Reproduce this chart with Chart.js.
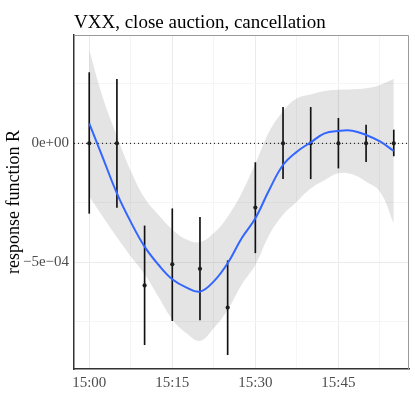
<!DOCTYPE html>
<html><head><meta charset="utf-8">
<script src="https://cdn.jsdelivr.net/npm/chart.js@4/dist/chart.umd.min.js"></script>
<style>html,body{margin:0;padding:0;background:#fff}#wrap{width:415px;height:415px}</style>
</head><body><div id="wrap"><canvas id="c" width="415" height="415"></canvas></div>
<script>
// ---- data ----
const titleText = 'VXX, close auction, cancellation';
const yAxisTitle = 'response function R';
const minutes = [0, 5, 10, 15, 20, 25, 30, 35, 40, 45, 50, 55];          // minutes after 15:00
const values  = [0, 0, -5.97e-4, -5.08e-4, -5.27e-4, -6.90e-4, -2.70e-4, 0, 0, 0, 0, 0];
const errLow  = [-2.94e-4, -2.69e-4, -8.46e-4, -7.45e-4, -7.42e-4, -8.88e-4, -4.60e-4, -1.49e-4, -1.49e-4, -1.04e-4, -0.77e-4, -0.53e-4];
const errHigh = [2.97e-4, 2.69e-4, -3.47e-4, -2.75e-4, -3.11e-4, -4.93e-4, -0.81e-4, 1.51e-4, 1.51e-4, 1.05e-4, 0.77e-4, 0.56e-4];
const smoothT   = [0, 2.5, 5, 7.5, 10, 12.5, 15, 17.5, 20, 22.5, 25, 27.5, 30, 32.5, 35, 37.5, 40, 42.5, 45, 47.5, 50, 52.5, 55];
const smoothFit = [0.84e-4, -0.63e-4, -2.10e-4, -3.30e-4, -4.34e-4, -5.10e-4, -5.71e-4, -6.05e-4, -6.23e-4, -5.80e-4, -5.04e-4, -4.00e-4, -3.15e-4, -1.96e-4, -0.91e-4, -0.35e-4, 0.04e-4, 0.42e-4, 0.52e-4, 0.53e-4, 0.35e-4, 0.08e-4, -0.32e-4];
const smoothLow = [-2.22e-4, -3.10e-4, -3.95e-4, -4.75e-4, -5.50e-4, -6.45e-4, -7.40e-4, -7.97e-4, -8.30e-4, -7.76e-4, -7.00e-4, -5.95e-4, -5.11e-4, -3.85e-4, -3.00e-4, -2.45e-4, -1.90e-4, -1.55e-4, -1.26e-4, -1.30e-4, -1.61e-4, -2.03e-4, -3.36e-4];
const smoothHigh = [3.92e-4, 1.89e-4, 0.30e-4, -1.15e-4, -2.30e-4, -3.00e-4, -3.62e-4, -4.03e-4, -4.15e-4, -3.77e-4, -3.08e-4, -2.10e-4, -0.85e-4, 0.49e-4, 1.35e-4, 1.89e-4, 2.05e-4, 2.20e-4, 2.25e-4, 2.27e-4, 2.31e-4, 2.45e-4, 2.71e-4];
const refValue = 0;
const xMin = -2.75, xMax = 57.75;
const yMin = -9.48e-4, yMax = 4.55e-4;
const xTickValues = [0, 15, 30, 45];
const xTickLabels = ['15:00', '15:15', '15:30', '15:45'];
const xMinorValues = [7.5, 22.5, 37.5, 52.5];
const yTickValues = [-5e-4, 0];
const yTickLabels = ['\u22125e\u221204', '0e+00'];
const yMinorValues = [-7.5e-4, -2.5e-4, 2.5e-4];

// ---- chart ----
const FONT = 'Liberation Serif';
const pts = (xs, ys) => xs.map((x, i) => ({x: x, y: ys[i]}));
const isMajor = (v, arr) => arr.some(a => Math.abs(a - v) < 1e-9);

const panelPlugin = {
  id: 'panel',
  afterDatasetsDraw(chart) {
    const {ctx, chartArea: a} = chart;
    ctx.save();
    ctx.strokeStyle = '#9a9a9a';
    ctx.lineWidth = 1;
    ctx.beginPath();
    ctx.moveTo(a.left, a.top + 0.5);
    ctx.lineTo(a.right - 0.5, a.top + 0.5);
    ctx.lineTo(a.right - 0.5, a.bottom);
    ctx.stroke();
    ctx.restore();
  },
  afterDraw(chart) {
    const {ctx, chartArea: a} = chart;
    ctx.save();
    ctx.fillStyle = '#000';
    ctx.font = '19px "' + FONT + '"';
    ctx.textAlign = 'left';
    ctx.textBaseline = 'alphabetic';
    ctx.fillText(titleText, a.left, 28);
    ctx.restore();
  }
};

new Chart(document.getElementById('c'), {
  type: 'line',
  data: {
    datasets: [
      { type: 'line', data: pts(smoothT, smoothLow), borderWidth: 0, pointRadius: 0, fill: false, tension: 0.4, order: 10 },
      { type: 'line', data: pts(smoothT, smoothHigh), borderWidth: 0, pointRadius: 0, fill: '-1', backgroundColor: 'rgba(0,0,0,0.105)', tension: 0.4, order: 9 },
      { type: 'line', data: [{x: xMin, y: refValue}, {x: xMax, y: refValue}], borderColor: '#000', borderWidth: 1, borderDash: [1, 3], pointRadius: 0, fill: false, order: 8 },
      { type: 'bar', data: minutes.map((m, i) => ({x: m, y: [errLow[i], errHigh[i]]})), backgroundColor: '#111', barThickness: 1, borderWidth: 0, order: 7 },
      { type: 'line', data: pts(minutes, values), showLine: false, pointRadius: 2.1, pointBackgroundColor: '#1e1e1e', pointBorderWidth: 0, order: 6 },
      { type: 'line', data: pts(smoothT, smoothFit), borderColor: '#3366FF', borderWidth: 2, pointRadius: 0, fill: false, tension: 0.4, order: 5 }
    ]
  },
  options: {
    responsive: false, animation: false, devicePixelRatio: 1,
    layout: { padding: { top: 35, right: 6, left: 0, bottom: 0 } },
    plugins: { legend: { display: false }, tooltip: { enabled: false } },
    scales: {
      x: {
        type: 'linear', min: xMin, max: xMax, offset: false,
        afterBuildTicks: s => { s.ticks = xTickValues.concat(xMinorValues).sort((a, b) => a - b).map(v => ({value: v})); },
        afterFit: s => { s.height = 46; },
        ticks: {
          autoSkip: false, maxRotation: 0, padding: 5, color: '#4d4d4d',
          font: { family: FONT, size: 15 },
          callback: v => { const i = xTickValues.indexOf(v); return i >= 0 ? xTickLabels[i] : ''; }
        },
        grid: { offset: false, drawTicks: false, lineWidth: 1, color: c => isMajor(c.tick.value, xTickValues) ? '#ebebeb' : '#f5f5f5' },
        border: { display: true, color: '#333', width: 1.5 }
      },
      y: {
        type: 'linear', min: yMin, max: yMax, beginAtZero: false,
        afterBuildTicks: s => { s.ticks = yTickValues.concat(yMinorValues).sort((a, b) => a - b).map(v => ({value: v})); },
        afterFit: s => { s.width = 74; },
        ticks: {
          autoSkip: false, padding: 5, color: '#4d4d4d',
          font: { family: FONT, size: 15 },
          callback: v => { const i = yTickValues.findIndex(a => Math.abs(a - v) < 1e-12); return i >= 0 ? yTickLabels[i] : ''; }
        },
        title: { display: true, text: yAxisTitle, color: '#000', font: { family: FONT, size: 18 }, padding: { top: 3, bottom: 0 } },
        grid: { drawTicks: false, lineWidth: 1, color: c => isMajor(c.tick.value, yTickValues) ? '#ebebeb' : '#f5f5f5' },
        border: { display: true, color: '#333', width: 1.5 }
      }
    }
  },
  plugins: [panelPlugin]
});
</script>
</body></html>
